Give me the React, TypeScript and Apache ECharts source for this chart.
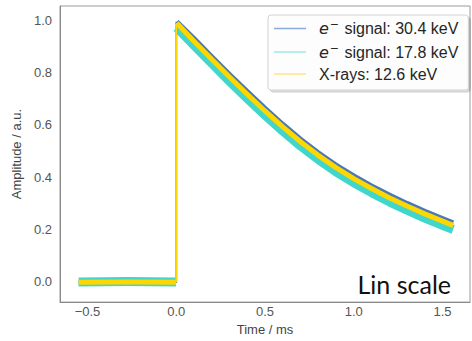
import React, { useEffect, useRef } from "react";
import * as echarts from "echarts";

// Time axis (ms) and amplitude values
const baseTimes = [-0.55, -0.275, -0.002];
const blueBase = [-0.006, -0.004, -0.006];
const cyanBase = [-0.002, 0.0, -0.002];
const yellowBase = [-0.003, -0.002, -0.003];

const decayTimes = [0.003, 0.1, 0.2, 0.3, 0.4, 0.5, 0.6, 0.7, 0.8, 0.9, 1.0, 1.1, 1.2, 1.3, 1.4, 1.5, 1.56];
const blueDecay = [0.995, 0.93, 0.861, 0.793, 0.727, 0.663, 0.602, 0.545, 0.493, 0.446, 0.404, 0.366, 0.331, 0.299, 0.269, 0.241, 0.225];
const cyanDecay = [0.972, 0.904, 0.835, 0.767, 0.701, 0.637, 0.576, 0.519, 0.467, 0.42, 0.378, 0.34, 0.305, 0.273, 0.243, 0.215, 0.199];
const yellowDecay = [0.99, 0.92, 0.851, 0.783, 0.717, 0.653, 0.592, 0.535, 0.483, 0.436, 0.394, 0.356, 0.321, 0.289, 0.259, 0.231, 0.215];

const seriesNames = ["e⁻ signal: 30.4 keV", "e⁻ signal: 17.8 keV", "X-rays: 12.6 keV"];
const xTicks = [-0.5, 0.0, 0.5, 1.0, 1.5];
const yTicks = [0.0, 0.2, 0.4, 0.6, 0.8, 1.0];

const colors = ["#4a78b5", "#40d6cc", "#ffd700"];
const legendColors = ["#8aaad8", "#9ee8e4", "#ffe680"];

function buildLine(base: number[], decay: number[]) {
  const pts: any[] = baseTimes.map((t, i) => [t, base[i]]);
  pts.push([0.0015, "-"]);
  decayTimes.forEach((t, i) => pts.push([t, decay[i]]));
  return pts;
}

function fmt(v: number) {
  const s = Math.abs(v).toFixed(1);
  return v < 0 ? "\u2212" + s : s;
}

export default function App() {
  const ref = useRef<HTMLDivElement>(null);
  useEffect(() => {
    const chart = echarts.init(ref.current!, null, { renderer: "svg" });
    const bases = [blueBase, cyanBase, yellowBase];
    const decays = [blueDecay, cyanDecay, yellowDecay];
    const widths = [5, 9, 5];
    const riseX = [0, 0.002, 0];
    const series: any[] = [];
    for (let k = 0; k < 3; k++) {
      series.push({
        type: "line",
        name: seriesNames[k],
        data: buildLine(bases[k], decays[k]),
        symbol: "none",
        connectNulls: false,
        lineStyle: { color: colors[k], width: widths[k], join: "round" },
        itemStyle: { color: colors[k] },
        z: 2 + k,
      });
    }
    for (let k = 0; k < 3; k++) {
      series.push({
        type: "line",
        name: "rise" + k,
        data: [
          [riseX[k], bases[k][bases[k].length - 1]],
          [riseX[k], decays[k][0]],
        ],
        symbol: "none",
        lineStyle: { color: colors[k], width: 1.5 },
        z: 2 + k,
      });
    }
    const axisFont = { fontFamily: "Liberation Sans", fontSize: 13, color: "#555555" };
    chart.setOption({
      animation: false,
      grid: {
        left: 60,
        right: 2,
        top: 6,
        bottom: 29,
        show: true,
        borderColor: "#9a9a9a",
        borderWidth: 1,
        backgroundColor: "transparent",
      },
      xAxis: {
        type: "value",
        min: -0.655,
        max: 1.655,
        name: "Time / ms",
        nameLocation: "middle",
        nameGap: 16,
        nameTextStyle: { ...axisFont, color: "#444444" },
        axisLine: { show: true, onZero: false, lineStyle: { color: "#8a8a8a", width: 1 } },
        axisTick: { show: false },
        splitLine: { show: false },
        axisLabel: {
          ...axisFont,
          margin: 3,
          customValues: xTicks,
          formatter: (v: number) => fmt(v),
        },
      },
      yAxis: {
        type: "value",
        min: -0.079,
        max: 1.055,
        name: "Amplitude / a.u.",
        nameLocation: "middle",
        nameRotate: 90,
        nameGap: 25,
        nameTextStyle: { ...axisFont, color: "#444444" },
        axisLine: { show: true, onZero: false, lineStyle: { color: "#8a8a8a", width: 1 } },
        axisTick: { show: false },
        splitLine: { show: false },
        axisLabel: {
          ...axisFont,
          margin: 8,
          customValues: yTicks,
          formatter: (v: number) => fmt(v),
        },
      },
      legend: {
        orient: "vertical",
        left: 268,
        top: 15,
        itemWidth: 32,
        itemHeight: 14,
        itemGap: 6,
        padding: [4, 10, 8, 6],
        backgroundColor: "rgba(255,255,255,0.9)",
        borderColor: "#d0d0d0",
        borderWidth: 1,
        borderRadius: 3,
        shadowColor: "rgba(0,0,0,0.18)",
        shadowOffsetX: 2,
        shadowOffsetY: 2,
        shadowBlur: 0,
        data: seriesNames.map((n, i) => ({
          name: n,
          icon: "path://M0,0 L32,0 L32,1.5 L0,1.5 Z",
          itemStyle: { color: legendColors[i] },
          lineStyle: { color: legendColors[i], width: 1.5 },
        })),
        formatter: (name: string) => {
          if (name.startsWith("e⁻")) return "{i|e}{s|\u2212}" + name.slice(2);
          return name;
        },
        textStyle: {
          fontFamily: "Liberation Sans",
          fontSize: 16,
          color: "#262626",
          padding: [0, 0, 0, 8],
          rich: {
            i: { fontFamily: "DejaVu Sans", fontStyle: "italic", fontSize: 16, color: "#262626" },
            s: { fontFamily: "DejaVu Sans", fontSize: 11, color: "#262626", padding: [0, 1, 8, 1] },
          },
        },
      },
      graphic: [
        {
          type: "text",
          right: 21,
          top: 271,
          style: {
            text: "Lin scale",
            fontFamily: "Lato",
            fontSize: 25,
            fill: "#111111",
          },
        },
      ],
      series,
    });
    return () => chart.dispose();
  }, []);
  return <div ref={ref} style={{ position: "absolute", left: 0, top: 0, width: 472, height: 341 }} />;
}
